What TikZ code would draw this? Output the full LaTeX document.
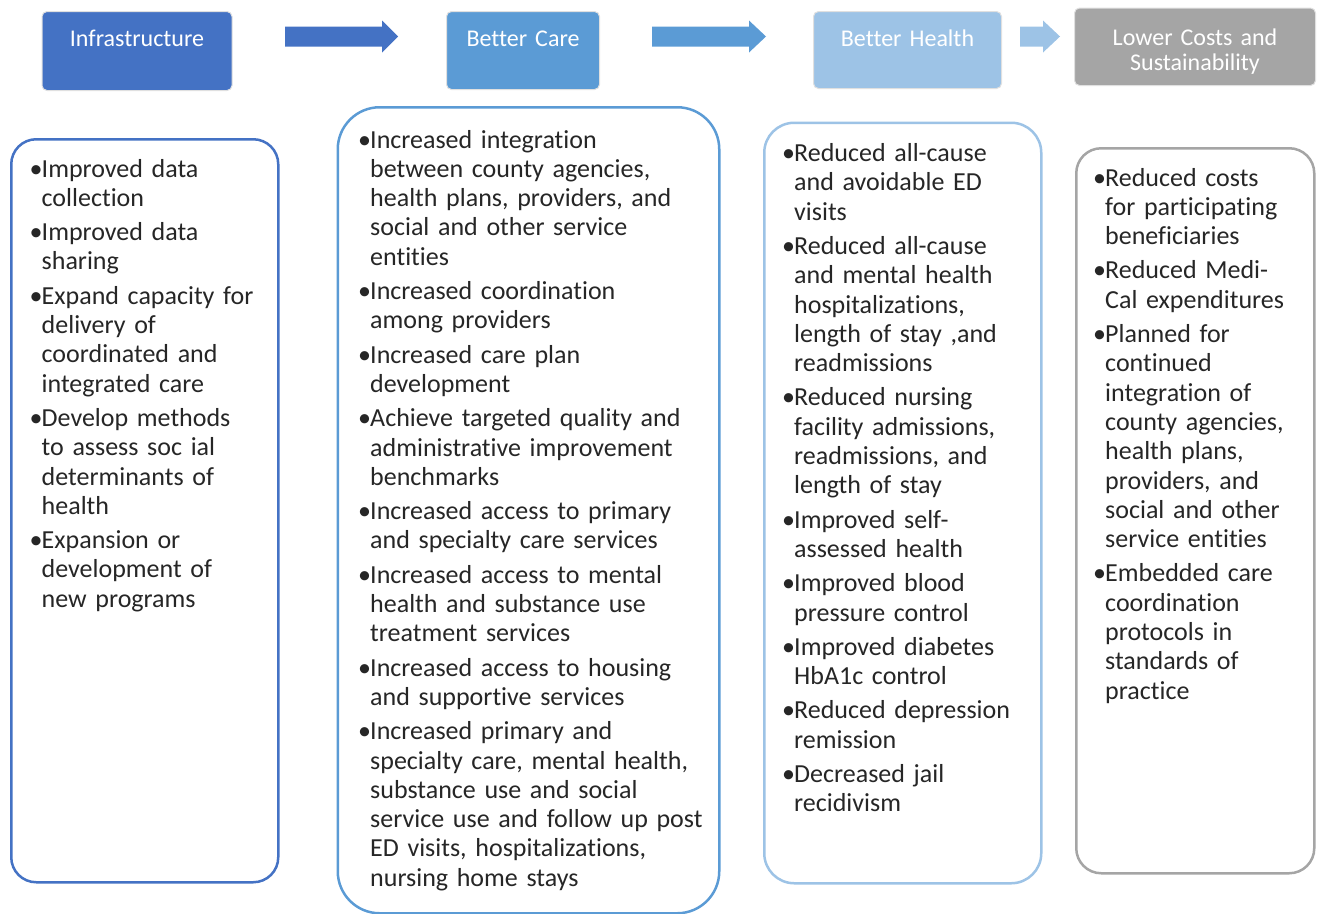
\documentclass[tikz,border=0pt]{standalone}
\usepackage{fontspec}
\setmainfont{Carlito}[Ligatures=NoCommon]
\usetikzlibrary{positioning}
\definecolor{infrablue}{HTML}{4472C4}
\definecolor{careblue}{HTML}{5B9BD5}
\definecolor{healthblue}{HTML}{9DC3E6}
\definecolor{costgrey}{HTML}{A5A5A5}
\definecolor{itemtext}{HTML}{262626}
\newlength{\bulletw}
\setlength{\bulletw}{12pt}
% bullet points, later lines hang under the text
\newcommand{\fitem}{\setlength{\parskip}{5pt}\hangindent=\bulletw
  \hangafter=1\makebox[\bulletw][l]{\textbullet}}
\newcommand{\bitem}{\par\noindent\fitem}
\tikzset{
  header/.style = {
    anchor=north west, rounded corners=5pt, draw=black!12, line width=1pt,
  },
  header text/.style = {
    anchor=base, align=center, text=white, inner sep=0pt,
    font=\fontsize{24}{25}\selectfont,
  },
  listbox/.style = {
    anchor=north west, draw, line width=2.5pt, fill=white,
  },
  listtext/.style = {
    anchor=base west, text width=420pt, align=left, inner sep=0pt,
    text=itemtext, font=\fontsize{26}{29.3}\selectfont,
  },
}

\begin{document}
\begin{tikzpicture}[x=1pt, y=-1pt]
  \useasboundingbox (0,0) rectangle (1321,913);

  % The four stages along the top
  \node (infra) [header, fill=infrablue, minimum width=190pt,
    minimum height=79pt] at (41.5,11) {};
  \node (care) [header, fill=careblue, minimum width=153pt,
    minimum height=78pt] at (446,11) {};
  \node (health) [header, fill=healthblue, minimum width=188pt,
    minimum height=77pt] at (813,11) {};
  \node (cost) [header, fill=costgrey, minimum width=241pt,
    minimum height=77.5pt] at (1074,7.5) {};

  \node (infratxt) [header text, text width=190pt]
    at ([yshift=-35pt]infra.north) {Infrastructure};
  \node (caretxt) [header text, text width=153pt]
    at ([yshift=-35pt]care.north) {Better Care};
  \node (healthtxt) [header text, text width=188pt]
    at ([yshift=-35pt]health.north) {Better Health};
  \node (costtxt) [header text, text width=241pt]
    at ([yshift=-37.5pt]cost.north) {Lower Costs and\\Sustainability};

  % Block arrows between the stages
  \foreach \a/\b/\c/\col in {285/382/398/infrablue, 652/749/766/careblue,
                             1020/1043/1060/healthblue}{
    \fill [\col] (\a,26.5) -- (\b,26.5) -- (\b,20.5) -- (\c,36.5)
      -- (\b,52.5) -- (\b,46.5) -- (\a,46.5) -- cycle;
  }

  % Outcome boxes
  \node (infrabox) [listbox, draw=infrablue, rounded corners=25pt,
    minimum width=267pt, minimum height=743pt] at (10,138) {};
  \node (carebox) [listbox, draw=careblue, rounded corners=42pt,
    minimum width=381.5pt, minimum height=806pt] at (336.5,106) {};
  \node (healthbox) [listbox, draw=healthblue, rounded corners=30pt,
    minimum width=277pt, minimum height=760.5pt] at (763,121.5) {};
  \node (costbox) [listbox, draw=costgrey, rounded corners=25pt,
    minimum width=238pt, minimum height=725pt] at (1075,147) {};

  \node (infralist) [listtext] at (29.5,177) {%
    \fitem Improved data\newline collection
    \bitem Improved data\newline sharing
    \bitem Expand capacity for\newline delivery of\newline coordinated and\newline integrated care
    \bitem Develop methods\newline to assess soc ial\newline determinants of\newline health
    \bitem Expansion or\newline development of\newline new programs\par};

  \node (carelist) [listtext] at (358,148) {%
    \fitem Increased integration\newline between county agencies,\newline health plans, providers, and\newline social and other service\newline entities
    \bitem Increased coordination\newline among providers
    \bitem Increased care plan\newline development
    \bitem Achieve targeted quality and\newline administrative improvement\newline benchmarks
    \bitem Increased access to primary\newline and specialty care services
    \bitem Increased access to mental\newline health and substance use\newline treatment services
    \bitem Increased access to housing\newline and supportive services
    \bitem Increased primary and\newline specialty care, mental health,\newline substance use and social\newline service use and follow up post\newline ED visits, hospitalizations,\newline nursing home stays\par};

  \node (healthlist) [listtext] at (782,161.5) {%
    \fitem Reduced all-cause\newline and avoidable ED\newline visits
    \bitem Reduced all-cause\newline and mental health\newline hospitalizations,\newline length of stay ,and\newline readmissions
    \bitem Reduced nursing\newline facility admissions,\newline readmissions, and\newline length of stay
    \bitem Improved self-\newline assessed health
    \bitem Improved blood\newline pressure control
    \bitem Improved diabetes\newline HbA1c control
    \bitem Reduced depression\newline remission
    \bitem Decreased jail\newline recidivism\par};

  \node (costlist) [listtext] at (1093,186) {%
    \fitem Reduced costs\newline for participating\newline beneficiaries
    \bitem Reduced Medi-\newline Cal expenditures
    \bitem Planned for\newline continued\newline integration of\newline county agencies,\newline health plans,\newline providers, and\newline social and other\newline service entities
    \bitem Embedded care\newline coordination\newline protocols in\newline standards of\newline practice\par};
\end{tikzpicture}
\end{document}
